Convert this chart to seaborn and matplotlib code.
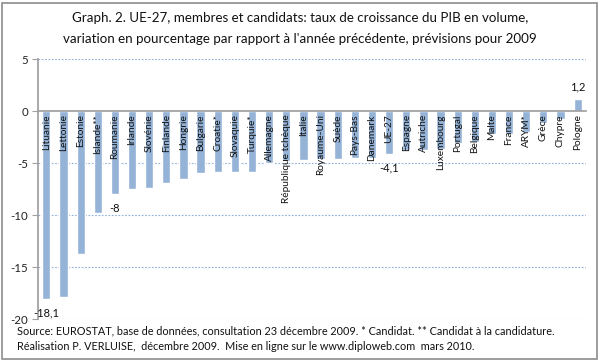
import numpy as np
import pandas as pd
import matplotlib
matplotlib.use("Agg")
import matplotlib.pyplot as plt
import seaborn as sns
from matplotlib.patches import Rectangle

# Countries, in the order of the chart
pays = ['Lituanie', 'Lettonie', 'Estonie', 'Islande**', 'Roumanie', 'Irlande',
        'Slovénie', 'Finlande', 'Hongrie', 'Bulgarie', 'Croatie*', 'Slovaquie',
        'Turquie*', 'Allemagne', 'République tchèque', 'Italie', 'Royaume-Uni',
        'Suède', 'Pays-Bas', 'Danemark', 'UE-27', 'Espagne', 'Autriche',
        'Luxembourg', 'Portugal', 'Belgique', 'Malte', 'France', 'ARYM*',
        'Grèce', 'Chypre', 'Pologne']
# GDP growth forecast for 2009, %
croissance = [-18.1, -17.9, -13.7, -9.8, -8.0, -7.5,
              -7.4, -6.9, -6.5, -5.9, -5.8, -5.8,
              -5.8, -5.0, -4.8, -4.7, -4.6,
              -4.6, -4.5, -4.5, -4.1, -3.7, -3.7,
              -3.6, -3.0, -2.9, -2.2, -2.2, -2.0,
              -1.1, -0.7, 1.2]
# only some bars carry a value label
etiquettes = {'Lituanie': '-18,1', 'Roumanie': '-8', 'UE-27': '-4,1', 'Pologne': '1,2'}
yticks = [5, 0, -5, -10, -15, -20]

df = pd.DataFrame({'pays': pays, 'croissance': croissance})

sns.set_theme(style='white')
plt.rcParams['font.family'] = ['Lato', 'DejaVu Sans']

fig = plt.figure(figsize=(6.0, 3.61), dpi=100)
ax = fig.add_axes([0.063, 0.1163, 0.914, 0.7189])
ax.set_axisbelow(False)  # country names go over the bars

sns.barplot(data=df, x='pays', y='croissance', order=pays, color='#95B3D7',
            saturation=1, width=0.48, ax=ax, zorder=2)

ax.set_ylim(-20, 5)
ax.set_xlim(-0.5, len(pays) - 0.5)
ax.set_yticks(yticks)
ax.set_yticklabels([str(v) for v in yticks], fontsize=8.3, color='#222222')
for v in yticks:
    if v != 0:
        ax.axhline(v, color='#8DB0DC', lw=0.8, ls=(0, (1.5, 1.5)), zorder=1)

# category axis sits on zero, as in Excel
ax.spines['bottom'].set_position(('data', 0))
for s in ['top', 'right']:
    ax.spines[s].set_visible(False)
ax.spines['bottom'].set_color('#A0A0A0')
ax.spines['left'].set_color('#A0A0A0')

ax.set_xticks(range(len(pays)))
ax.set_xticklabels(pays, rotation=90, fontsize=7.3, color='#111111')
ax.tick_params(axis='x', which='major', length=0, pad=2)
ax.set_xticks(np.arange(len(pays) - 1) + 0.5, minor=True)
ax.tick_params(axis='x', which='minor', direction='in', length=3, color='#A0A0A0', width=0.8)
ax.tick_params(axis='y', which='major', direction='out', length=4, color='#A0A0A0',
               width=0.8, left=True, pad=3)
ax.set_xlabel('')
ax.set_ylabel('')

for i, (p, v) in enumerate(zip(pays, croissance)):
    if p in etiquettes:
        off = 5 if v > 0 else -6
        ax.annotate(etiquettes[p], (i, v), xytext=(0, off), textcoords='offset points',
                    ha='center', va='bottom' if v > 0 else 'top', fontsize=8, color='#111111')

fig.text(0.5, 0.95, "Graph. 2. UE-27, membres et candidats: taux de croissance du PIB en volume,",
         ha='center', va='center', fontsize=9.6, color='#111111')
fig.text(0.5, 0.891, "variation en pourcentage par rapport à l'année précédente, prévisions pour 2009",
         ha='center', va='center', fontsize=9.6, color='#111111')
fig.text(0.028, 0.084, "Source: EUROSTAT, base de données, consultation 23 décembre 2009. * Candidat. "
         "** Candidat à la candidature.", ha='left', va='center', fontsize=7.8, color='#111111')
fig.text(0.028, 0.039, "Réalisation P. VERLUISE,  décembre 2009.  Mise en ligne sur le www.diploweb.com  mars 2010.",
         ha='left', va='center', fontsize=7.8, color='#111111')

fig.patches.append(Rectangle((0.004, 0.006), 0.991, 0.986, transform=fig.transFigure,
                             fill=False, edgecolor='#8C8C8C', lw=1.2))

fig.savefig('out.png', dpi=100)
